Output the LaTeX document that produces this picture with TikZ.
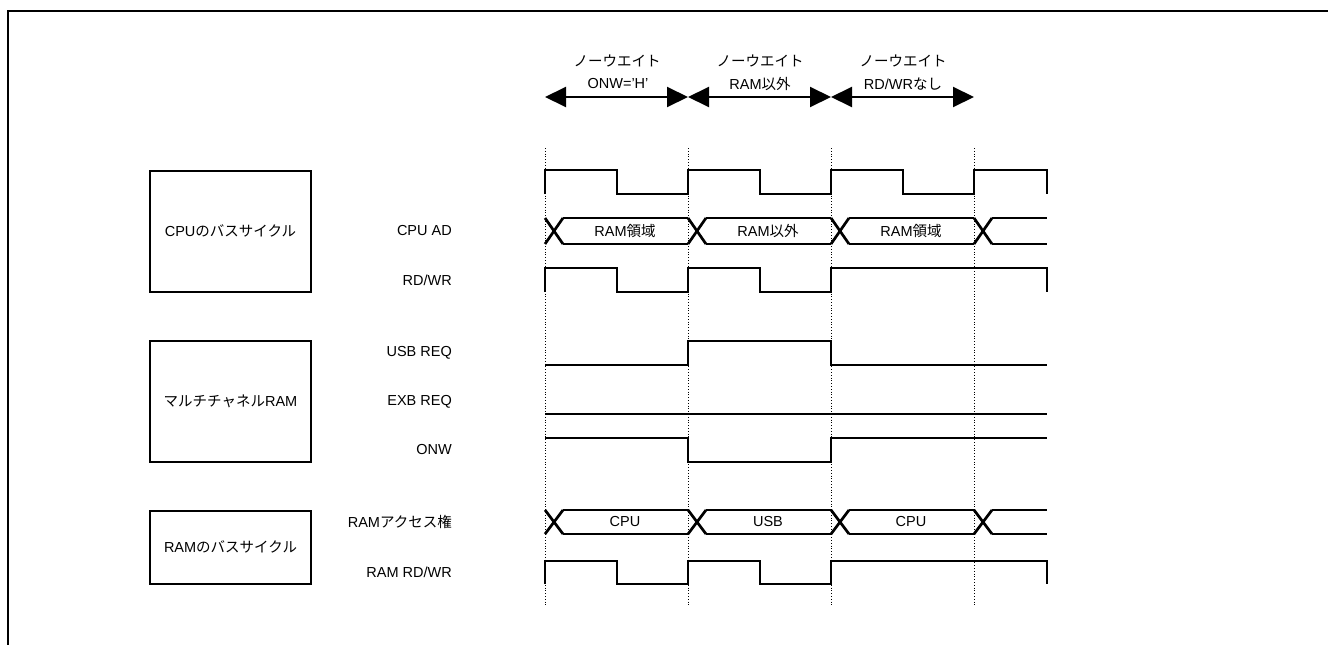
\documentclass[tikz,border=0pt]{standalone}
\usepackage{fontspec}
\setmainfont{Liberation Sans}
\newfontfamily\jp{Noto Sans CJK JP}
\usetikzlibrary{arrows.meta}
\begin{document}
\begin{tikzpicture}[x=1pt,y=-1pt,
  txt/.style={font=\fontsize{14.5}{16}\selectfont, inner sep=0pt},
  lbl/.style={txt, anchor=east},
  blk/.style={draw, line width=1.1pt},
  blkedge/.style={line width=2pt},
  sig/.style={line width=2.7pt, line join=miter, line cap=butt},
  grid/.style={line width=0.8pt, dotted},
  span/.style={line width=2pt, {Triangle[length=21pt,width=20pt]}-{Triangle[length=21pt,width=20pt]}}]
\useasboundingbox (0,0) rectangle (1328,645);
\draw[line width=2pt] (1328,11) -- (8,11) -- (8,645);

% grid positions
\foreach \n/\x in {a/545,b/688,c/831,d/974}{
  \coordinate (g\n) at (\x,97);
  \draw[grid] (\x,148) -- (\x,607);
}

% top spans
\draw[span] (ga) -- (gb);
\draw[span] (gb) -- (gc);
\draw[span] (gc) -- (gd);
\node[txt] (w1) at (617,61) {\jp ノーウエイト};
\node[txt] (w2) at (760,61) {\jp ノーウエイト};
\node[txt] (w3) at (903,61) {\jp ノーウエイト};
\node[txt] (c1) at (618,84) {ONW='H'};
\node[txt] (c2) at (760,84) {RAM{\jp 以外}};
\node[txt] (c3) at (903,84) {RD/WR{\jp なし}};

% left boxes
\draw[blk] (150,171) rectangle (311,292);
\draw[blk] (150,341) rectangle (311,462);
\draw[blk] (150,511) rectangle (311,584);
\draw[blkedge] (150,171) -- (150,292);
\draw[blkedge] (150,341) -- (150,462);
\draw[blkedge] (150,511) -- (150,584);
\node[txt] (b1) at (230.5,231) {CPU{\jp のバスサイクル}};
\node[txt] (b2) at (230.5,401) {{\jp マルチチャネル}RAM};
\node[txt] (b3) at (230.5,547) {RAM{\jp のバスサイクル}};

% signal labels
\node[lbl] (l1) at (452,231) {CPU AD};
\node[lbl] (l2) at (452,280) {RD/WR};
\node[lbl] (l3) at (452,353) {USB REQ};
\node[lbl] (l4) at (452,402) {EXB REQ};
\node[lbl] (l5) at (452,450) {ONW};
\node[lbl] (l6) at (452,522) {RAM{\jp アクセス権}};
\node[lbl] (l7) at (452,572) {RAM RD/WR};

% clock
\draw[sig] (545,194) -- (545,170) -- (617,170) -- (617,194) -- (688,194) -- (688,170)
  -- (760,170) -- (760,194) -- (831,194) -- (831,170) -- (903,170) -- (903,194)
  -- (974,194) -- (974,170) -- (1047,170) -- (1047,194);

% buses
\foreach \yt/\yb in {218/244, 510/534}{
  \foreach \x/\nx in {545/688, 688/831, 831/974}{
    \draw[sig] (\x,\yt) -- (\x+18,\yb);
    \draw[sig] (\x,\yb) -- (\x+18,\yt);
    \draw[sig] (\x+18,\yt) -- (\nx,\yt);
    \draw[sig] (\x+18,\yb) -- (\nx,\yb);
  }
  \draw[sig] (974,\yt) -- (992,\yb);
  \draw[sig] (974,\yb) -- (992,\yt);
  \draw[sig] (992,\yt) -- (1047,\yt);
  \draw[sig] (992,\yb) -- (1047,\yb);
}
\node[txt] (a1) at (625,231) {RAM{\jp 領域}};
\node[txt] (a2) at (768,231) {RAM{\jp 以外}};
\node[txt] (a3) at (911,231) {RAM{\jp 領域}};
\node[txt] (r1) at (625,522) {CPU};
\node[txt] (r2) at (768,522) {USB};
\node[txt] (r3) at (911,522) {CPU};

% RD/WR
\draw[sig] (545,292) -- (545,268) -- (617,268) -- (617,292) -- (688,292) -- (688,268)
  -- (760,268) -- (760,292) -- (831,292) -- (831,268) -- (1047,268) -- (1047,292);
% USB REQ
\draw[sig] (545,365) -- (688,365) -- (688,341) -- (831,341) -- (831,365) -- (1047,365);
% EXB REQ
\draw[sig] (545,414) -- (1047,414);
% ONW
\draw[sig] (545,438) -- (688,438) -- (688,462) -- (831,462) -- (831,438) -- (1047,438);
% RAM RD/WR
\draw[sig] (545,584) -- (545,561) -- (617,561) -- (617,584) -- (688,584) -- (688,561)
  -- (760,561) -- (760,584) -- (831,584) -- (831,561) -- (1047,561) -- (1047,584);
\end{tikzpicture}
\end{document}
